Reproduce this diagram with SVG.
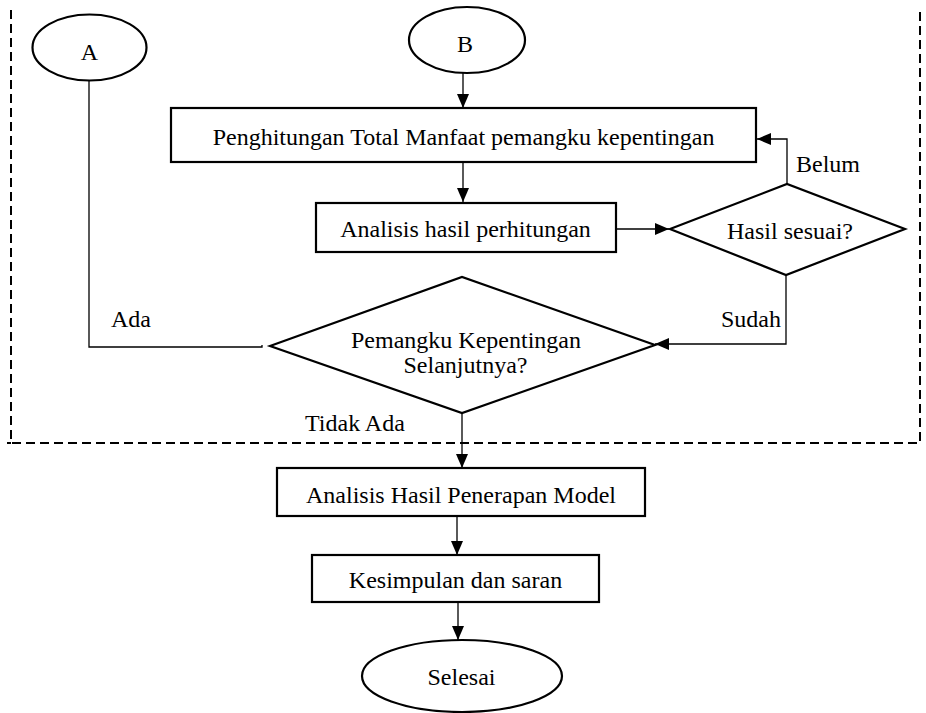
<svg xmlns="http://www.w3.org/2000/svg" width="926" height="713" viewBox="0 0 926 713">
<style>
  .shape { fill: #fff; stroke: #000; stroke-width: 2.2; }
  .conn { fill: none; stroke: #000; stroke-width: 1.3; }
  .txt { font-family: "Liberation Serif", "Times New Roman", serif; font-size: 24px; fill: #000; }
  .mid { text-anchor: middle; }
  .border { fill: none; stroke: #000; stroke-width: 2; stroke-dasharray: 9 5; }
</style>
<defs>
  <marker id="arrow" viewBox="0 0 14 12" refX="14" refY="6" markerWidth="14" markerHeight="12" markerUnits="userSpaceOnUse" orient="auto">
    <path d="M0,0 L14,6 L0,12 Z" fill="#000"/>
  </marker>
</defs>
<rect width="926" height="713" fill="#fff"/>
<path class="border" d="M11,10 L11,443 L920,443 L920,10"/>
<line class="border" x1="7" y1="443" x2="11" y2="443"/>

<g id="connectors">
  <line class="conn" x1="463" y1="73" x2="463" y2="108" marker-end="url(#arrow)"/>
  <line class="conn" x1="463" y1="162" x2="463" y2="202" marker-end="url(#arrow)"/>
  <line class="conn" x1="616" y1="229" x2="669" y2="229" marker-end="url(#arrow)"/>
  <polyline class="conn" points="787,184 787,139 757,139" marker-end="url(#arrow)"/>
  <polyline class="conn" points="786,275 786,344 655,344" marker-end="url(#arrow)"/>
  <polyline class="conn" points="89,81 89,347 262,347 262,345"/>
  <line class="conn" x1="462" y1="413" x2="462" y2="468" marker-end="url(#arrow)"/>
  <line class="conn" x1="457" y1="516" x2="457" y2="555" marker-end="url(#arrow)"/>
  <line class="conn" x1="458" y1="602" x2="458" y2="640" marker-end="url(#arrow)"/>
  <text class="txt" x="796" y="172">Belum</text>
  <text class="txt" x="781" y="327" text-anchor="end">Sudah</text>
  <text class="txt" x="111" y="327">Ada</text>
  <text class="txt" x="305" y="431">Tidak Ada</text>
</g>

<g id="nodeA">
  <ellipse class="shape" cx="89.5" cy="47.5" rx="57" ry="33"/>
  <text class="txt mid" x="89.5" y="60">A</text>
</g>
<g id="nodeB">
  <ellipse class="shape" cx="467" cy="40" rx="58" ry="33"/>
  <text class="txt mid" x="465" y="52">B</text>
</g>
<g id="nodePenghitungan">
  <rect class="shape" x="171" y="108" width="585" height="54"/>
  <text class="txt mid" x="463.5" y="145">Penghitungan Total Manfaat pemangku kepentingan</text>
</g>
<g id="nodeAnalisisHasil">
  <rect class="shape" x="316" y="203" width="300" height="49"/>
  <text class="txt mid" x="465.5" y="237">Analisis hasil perhitungan</text>
</g>
<g id="nodeHasilSesuai">
  <polygon class="shape" points="670,229 787,184 905,229 786,275"/>
  <text class="txt mid" x="790" y="239">Hasil sesuai?</text>
</g>
<g id="nodePemangku">
  <polygon class="shape" points="270,346 462,277 655,345 462,413"/>
  <text class="txt mid" x="466" y="348">Pemangku Kepentingan</text>
  <text class="txt mid" x="465.5" y="373">Selanjutnya?</text>
</g>
<g id="nodePenerapan">
  <rect class="shape" x="277" y="468" width="368" height="48"/>
  <text class="txt mid" x="461" y="503">Analisis Hasil Penerapan Model</text>
</g>
<g id="nodeKesimpulan">
  <rect class="shape" x="312" y="555" width="287" height="47"/>
  <text class="txt mid" x="455.5" y="588">Kesimpulan dan saran</text>
</g>
<g id="nodeSelesai">
  <ellipse class="shape" cx="462" cy="676" rx="100" ry="36"/>
  <text class="txt mid" x="461.5" y="685">Selesai</text>
</g>
</svg>
